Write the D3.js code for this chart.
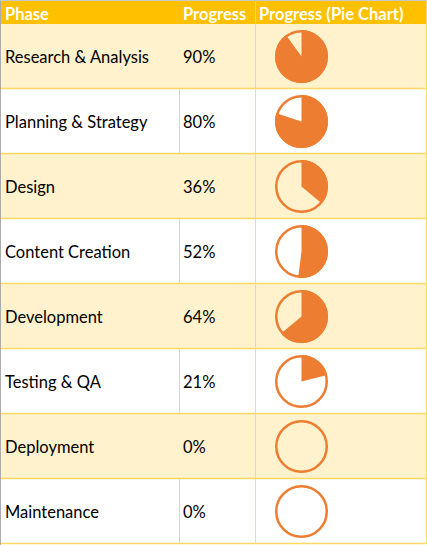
<!DOCTYPE html>
<html><head><meta charset="utf-8">
<script src="https://cdn.jsdelivr.net/npm/d3@7"></script>
<style>html,body{margin:0;padding:0;background:#fff;}svg{display:block;}</style>
</head><body>
<script>
const headers = ["Phase", "Progress", "Progress (Pie Chart)"];
const phases = ["Research & Analysis", "Planning & Strategy", "Design", "Content Creation", "Development", "Testing & QA", "Deployment", "Maintenance"];
const progress = [90, 80, 36, 52, 64, 21, 0, 0];

const W = 427, H = 545;
const headerH = 24, rowH = 65;
const colX = [0, 179, 255, 426];
const orange = "#ED7D31", gold = "#FFC000", cream = "#FFF2CC", border = "#FFD966";

const svg = d3.select("body").append("svg").attr("width", W).attr("height", H);
const font = "Lato, 'Open Sans', sans-serif";
const fs = 16.5;

const y = d3.scaleBand().domain(d3.range(phases.length)).range([headerH, headerH + rowH * phases.length]).padding(0);
const pct = d3.scaleLinear().domain([0, 100]).range([0, 2 * Math.PI]);

// header
svg.append("rect").attr("x", 0).attr("y", 0).attr("width", colX[3]).attr("height", headerH).attr("fill", gold);
svg.selectAll("text.h").data(headers).join("text")
  .attr("x", (d, i) => colX[i] + (i === 0 ? 5 : 4))
  .attr("y", 19.5)
  .attr("fill", "#fff").attr("font-family", font).attr("font-weight", "bold").attr("font-size", fs)
  .text(d => d);

// rows
const rows = svg.selectAll("g.row").data(phases.map((p, i) => ({ p, v: progress[i], i }))).join("g")
  .attr("transform", d => `translate(0,${y(d.i)})`);
rows.append("rect").attr("x", 0).attr("y", 0).attr("width", colX[3]).attr("height", rowH)
  .attr("fill", d => d.i % 2 === 0 ? cream : "#fff");
// grey gridlines in white rows
rows.filter(d => d.i % 2 === 1).append("line")
  .attr("x1", colX[1] + 0.5).attr("x2", colX[1] + 0.5).attr("y1", 0).attr("y2", rowH)
  .attr("stroke", "#D4D4D4");
rows.append("text").attr("x", 5).attr("y", rowH / 2 + 6.5)
  .attr("font-family", font).attr("font-size", fs).attr("fill", "#000").text(d => d.p);
rows.append("text").attr("x", 183).attr("y", rowH / 2 + 6.5)
  .attr("font-family", font).attr("font-size", fs).attr("fill", "#000").text(d => d.v + "%");

// pies
const r = 26.5;
const arc = d3.arc().innerRadius(0).outerRadius(r);
const pies = rows.append("g").attr("transform", `translate(301.5,${rowH / 2})`);
pies.append("circle").attr("r", r).attr("fill", d => d.i % 2 === 0 ? cream : "#fff");
pies.append("path").attr("d", d => arc({ startAngle: 0, endAngle: pct(d.v) })).attr("fill", orange);
pies.append("circle").attr("r", r - 1.25).attr("fill", "none").attr("stroke", orange).attr("stroke-width", 2.5);

// horizontal borders
svg.selectAll("line.hb").data(d3.range(1, phases.length + 1)).join("line")
  .attr("x1", 0).attr("x2", colX[3]).attr("y1", i => headerH + i * rowH - 0.5).attr("y2", i => headerH + i * rowH - 0.5)
  .attr("stroke", border).attr("stroke-width", 1.5);
// vertical borders
svg.append("line").attr("x1", colX[2] + 0.5).attr("x2", colX[2] + 0.5).attr("y1", 0).attr("y2", headerH + rowH * phases.length)
  .attr("stroke", border).attr("stroke-opacity", 0.9);
svg.append("line").attr("x1", colX[3] + 0.5).attr("x2", colX[3] + 0.5).attr("y1", 0).attr("y2", headerH + rowH * phases.length)
  .attr("stroke", border);
// left grey edge & top
svg.append("line").attr("x1", 0.5).attr("x2", 0.5).attr("y1", 0).attr("y2", H).attr("stroke", "#ABABAB");
svg.append("line").attr("x1", 0).attr("x2", W).attr("y1", 0.5).attr("y2", 0.5).attr("stroke", "#C8C8C8");
</script>
</body></html>
